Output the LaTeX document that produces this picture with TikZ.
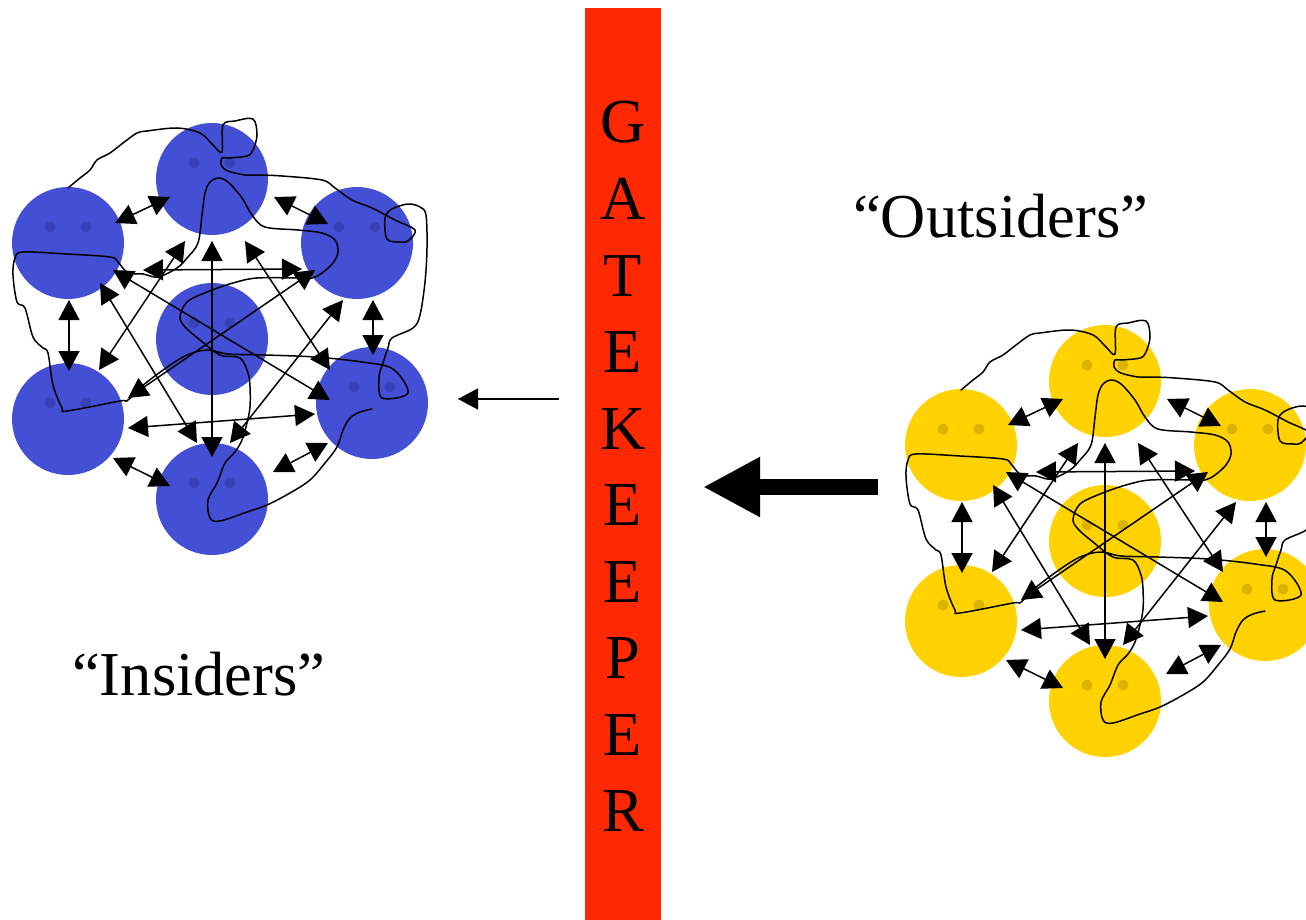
\documentclass[tikz,border=0pt]{standalone}
\usepackage{fontspec}
\setmainfont{Liberation Serif}
\usetikzlibrary{arrows.meta,calc}
\definecolor{faceblue}{RGB}{67,80,214}
\definecolor{eyeblue}{RGB}{56,66,182}
\definecolor{faceyellow}{RGB}{255,210,0}
\definecolor{eyeyellow}{RGB}{220,178,0}
\definecolor{gkred}{RGB}{255,40,0}
\tikzset{
  face/.style={circle, minimum size=112pt, inner sep=0pt, draw=none},
  biarrow/.style={line width=1.5pt, {Triangle[length=20pt,width=21pt]}-{Triangle[length=20pt,width=21pt]}},
  scribble/.style={line width=1.5pt, line join=round, line cap=round},
  bigtext/.style={font=\fontsize{62.5}{74}\selectfont, inner sep=0pt},
}
\newcommand\drawcluster[5]{%
  \begin{scope}[shift={(#2,#3)}]
    \foreach \n/\x/\y in {T/212/179, UL/68/243, UR/357/243, C/212/339, LL/68/419, LR/372/403, B/212/499} {
      \node[face, fill=#4] (#1\n) at (\x,\y) {};
      \fill[#5] (\x-18,\y-16) circle (5.5) (\x+18,\y-16) circle (5.5);
    }
    \draw[scribble] plot[smooth, tension=0.55] coordinates {
      (68,188) (80,178) (90,170) (97,160) (110,153) (123,143) (137,133) (147,131) (177,128) (200,133) (213,145) (222,152)
      (223,125) (235,121) (253,119) (257,135) (253,150) (247,156) (228,158) (222,158) (221,165) (228,171) (245,175) (258,175)
      (282,176) (322,180) (335,188) (352,200) (372,208) (395,220) (415,230) (408,241) (400,242) (387,239) (385,218) (392,209)
      (408,204) (420,207) (426,215) (427,248) (425,282) (420,315) (413,328) (392,338) (388,348) (383,363) (379,377) (382,398)
      (408,393) (393,369) (362,362) (315,357) (265,355) (228,354) (207,350) (183,357) (147,382) (128,400) (120,401) (67,411)
      (62,408) (53,385) (48,353) (43,348) (33,337) (25,308) (17,302) (13,275) (15,258) (23,252) (67,254) (110,257) (118,262)
      (128,273) (143,274) (158,277) (177,268) (187,258) (198,243) (202,215) (205,193) (210,182) (218,178) (228,182) (242,198)
      (252,215) (265,227) (298,230) (322,233) (335,240) (338,252) (333,263) (322,273) (312,278) (298,278) (257,278) (233,283)
      (207,292) (187,302) (180,317) (185,327) (200,340) (220,355) (240,358) (248,373) (250,387) (250,407) (247,423) (242,440)
      (235,452) (225,463) (217,483) (208,500) (210,518) (220,521) (247,512) (267,505) (290,493) (310,480) (325,463) (337,447)
      (343,430) (350,418) (360,412) (372,409)};
  \end{scope}
  \foreach \a/\ax/\ay/\b/\bx/\by in {
      UL/47/-20/T/-42/18, T/62/18/UR/-29/-19, UL/1/57/LL/1/-48, UR/16/57/LR/1/-48,
      LL/45/39/B/-42/-13, B/61/-27/LR/-44/40, T/0/62/B/0/-42, UL/75/27/UR/-55/26,
      LL/60/9/LR/-57/11, T/-27/62/LL/31/-49, T/33/62/LR/-42/-33, UL/32/40/B/-15/-56,
      UR/-14/57/B/18/-56, UL/45/27/LR/-42/-3, UR/-42/27/LL/60/-21} {
    \draw[biarrow] ($(#1\a)+(\ax,\ay)$) -- ($(#1\b)+(\bx,\by)$);
  }
}
\begin{document}
\begin{tikzpicture}[x=1pt,y=-1pt]
  \useasboundingbox (0,0) rectangle (1306,920);
  \fill[white] (0,0) rectangle (1306,920);
  % gatekeeper bar
  \node[fill=gkred, minimum width=76pt, minimum height=912pt, inner sep=0pt] (bar) at (623,464) {};
  \foreach \l [count=\i from 0] in {G,A,T,E,K,E,E,P,E,R} {
    \node[bigtext, anchor=base] (gk\i) at (623,143+76.5*\i) {\l};
  }
  % clusters
  \drawcluster{b}{0}{0}{faceblue}{eyeblue}
  \drawcluster{y}{893}{202}{faceyellow}{eyeyellow}
  % labels
  \node[bigtext, anchor=base west] (ins) at (72,695) {“Insiders”};
  \node[bigtext, anchor=base west] (outs) at (853,237) {“Outsiders”};
  % arrows
  \coordinate (bigS) at (878,487);
  \coordinate (bigE) at (703,487);
  \draw[line width=16pt, -{Triangle[length=57pt,width=56pt]}] (bigS) -- (bigE);
  \coordinate (smS) at (559,399);
  \coordinate (smE) at (458,399);
  \draw[line width=1.3pt, -{Triangle[length=20pt,width=21pt]}] (smS) -- (smE);
\end{tikzpicture}
\end{document}
